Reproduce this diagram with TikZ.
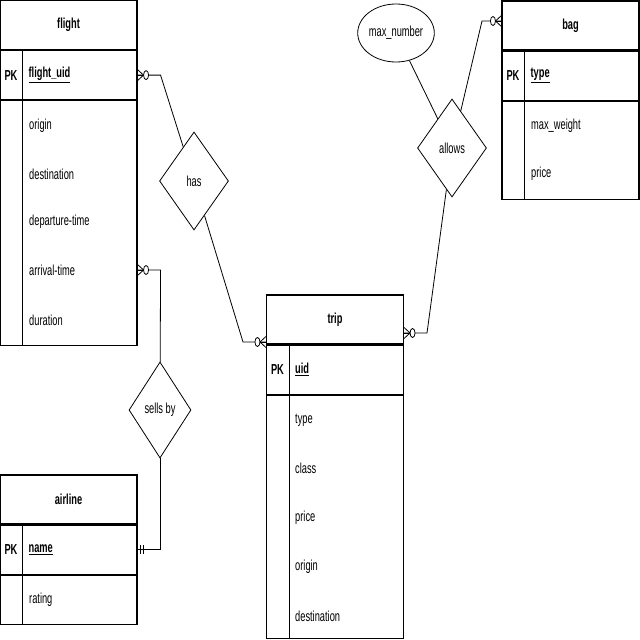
\documentclass[tikz,border=0pt]{standalone}
\usepackage{fontspec}
\setmainfont{Liberation Sans}[FakeStretch=0.64]
\usetikzlibrary{shapes.geometric,calc,positioning}

\begin{document}
\begin{tikzpicture}[
  x=1pt,
  y=-1pt,
  font=\fontsize{14.5}{17}\selectfont,
  tablehead/.style={
    draw=black,
    line width=1.1pt,
    minimum width=137pt,
    minimum height=49pt,
    inner sep=0pt,
    font=\fontsize{14.5}{17}\selectfont\bfseries
  },
  tablerow/.style={
    draw=black,
    line width=1.1pt,
    minimum width=137pt,
    inner sep=0pt,
    anchor=north
  },
  pktag/.style={
    inner sep=0pt,
    font=\fontsize{14.5}{17}\selectfont\bfseries
  },
  keyfield/.style={
    anchor=west,
    inner sep=0pt,
    font=\fontsize{14.5}{17}\selectfont\bfseries
  },
  fieldtxt/.style={
    anchor=west,
    inner sep=0pt
  },
  divider/.style={line width=0.7pt},
  relation/.style={
    diamond,
    draw=black,
    fill=white,
    line width=0.8pt,
    inner sep=0pt
  },
  attribute/.style={
    ellipse,
    draw=black,
    line width=0.8pt,
    inner sep=0pt,
    minimum width=76pt,
    minimum height=58pt
  },
  link/.style={line width=0.8pt},
  zeromany/.pic={
    \draw[link] (0,-5.5) -- (6,0) -- (0,5.5);
    \draw[link] (0,0) -- (6,0);
    \draw[link,fill=white] (8.5,0) ellipse [x radius=2.5pt, y radius=4.5pt];
  },
  mandone/.pic={
    \draw[link] (3,-4.5) -- (3,4.5);
    \draw[link] (6,-4.5) -- (6,4.5);
  }
]

\useasboundingbox (0,0) rectangle (640,640);

% flight
\node[tablehead] (flight) at (68.5,25) {flight};
\node[tablerow,minimum height=49pt] (flightpk) at (flight.south) {};
\node[tablerow,minimum height=245pt] (flightbody) at (flightpk.south) {};
\draw[divider] ($(flightpk.north west)+(23,0)$) -- ($(flightbody.south west)+(23,0)$);
\node[pktag] at ($(flightpk.west)+(11.5,0)$) {PK};
\node[keyfield] (flightuid) at ($(flightpk.west)+(29,0)$) {\underline{flight\_uid}};
\node[fieldtxt] (origin) at (29,126) {origin};
\node[fieldtxt] (destination) at (29,174) {destination};
\node[fieldtxt] (departure) at (29,222) {departure-time};
\node[fieldtxt] (arrival) at (29,270) {arrival-time};
\node[fieldtxt] (duration) at (29,320) {duration};

% bag
\node[tablehead] (bag) at (570.5,25.5) {bag};
\node[tablerow,minimum height=49pt] (bagpk) at (bag.south) {};
\node[tablerow,minimum height=98pt] (bagbody) at (bagpk.south) {};
\draw[divider] ($(bagpk.north west)+(23,0)$) -- ($(bagbody.south west)+(23,0)$);
\node[pktag] at ($(bagpk.west)+(11.5,0)$) {PK};
\node[keyfield] (bagtype) at ($(bagpk.west)+(29,0)$) {\underline{type}};
\node[fieldtxt] (maxweight) at (531,126) {max\_weight};
\node[fieldtxt] (bagprice) at (531,174) {price};

% trip
\node[tablehead] (trip) at (335,319.5) {trip};
\node[tablerow,minimum height=49pt] (trippk) at (trip.south) {};
\node[tablerow,minimum height=243pt] (tripbody) at (trippk.south) {};
\draw[divider] ($(trippk.north west)+(23,0)$) -- ($(tripbody.south west)+(23,0)$);
\node[pktag] at ($(trippk.west)+(11.5,0)$) {PK};
\node[keyfield] (tripuid) at ($(trippk.west)+(29,0)$) {\underline{uid}};
\node[fieldtxt] (triptype) at (295,420) {type};
\node[fieldtxt] (tripclass) at (295,468) {class};
\node[fieldtxt] (tripprice) at (295,518) {price};
\node[fieldtxt] (triporigin) at (295,567) {origin};
\node[fieldtxt] (tripdest) at (295,616) {destination};

% airline
\node[tablehead] (airline) at (68.5,499.5) {airline};
\node[tablerow,minimum height=49pt] (airlinepk) at (airline.south) {};
\node[tablerow,minimum height=49pt] (airlinebody) at (airlinepk.south) {};
\draw[divider] ($(airlinepk.north west)+(23,0)$) -- ($(airlinebody.south west)+(23,0)$);
\node[pktag] at ($(airlinepk.west)+(11.5,0)$) {PK};
\node[keyfield] (airlinename) at ($(airlinepk.west)+(29,0)$) {\underline{name}};
\node[fieldtxt] (rating) at (29,600) {rating};

% relations
\node[relation,minimum width=69pt,minimum height=98pt] (has) at (194,181) {has};
\node[relation,minimum width=69pt,minimum height=98pt] (allows) at (452,148) {allows};
\node[relation,minimum width=62pt,minimum height=96pt] (sellsby) at (160,410) {sells by};
\node[attribute] (maxnumber) at (396,33) {max\_number};

% connectors
\coordinate (tripin) at (243,342);
\coordinate (tripout) at (427,333);
\coordinate (bagin) at (482,21);

\draw[link] (flightpk.east) -- ++(23,0) -- (has);
\pic at (flightpk.east) {zeromany};

\draw[link] (has) -- (tripin) -- (tripin -| trip.west);
\pic[rotate=180] at (tripin -| trip.west) {zeromany};

\draw[link] (tripout -| trip.east) -- (tripout) -- (allows);
\pic at (tripout -| trip.east) {zeromany};

\draw[link] (allows) -- (bagin) -- (bagin -| bag.west);
\pic[rotate=180] at (bagin -| bag.west) {zeromany};

\draw[link] (maxnumber) -- (allows);

\draw[link] (arrival -| flightbody.east) -- ++(23,0) -- (sellsby);
\pic at (arrival -| flightbody.east) {zeromany};

\draw[link] (sellsby) -- (sellsby |- airlinepk.east) -- (airlinepk.east);
\pic at (airlinepk.east) {mandone};

\end{tikzpicture}
\end{document}
